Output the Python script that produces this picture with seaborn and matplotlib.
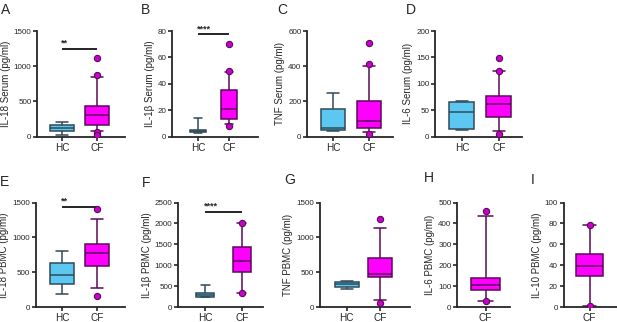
import numpy as np
import matplotlib
matplotlib.use("Agg")
import matplotlib.pyplot as plt
import seaborn as sns

# Box summaries: [low whisker, Q1, median, Q3, high whisker]
# (whis=inf on these five values reproduces exactly those quartiles/whiskers)
a_hc = [25, 80, 115, 160, 210]
a_cf = [74, 164, 308, 430, 840]
a_cf_out = [1120, 870, 60, 20]
b_hc = [2.5, 3.5, 4.5, 5, 14]
b_cf = [9.5, 13, 21, 35, 49]
b_cf_out = [70, 50, 8]
c_hc = [30, 38, 47, 158, 245]
c_cf = [25, 46, 89, 200, 400]
c_cf_out = [530, 410, 15]
d_hc = [12, 15, 47, 65, 68]
d_cf = [11, 37, 62, 77, 125]
d_cf_out = [148, 125, 5]
e_hc = [187, 327, 458, 631, 804]
e_cf = [266, 584, 771, 902, 1262]
e_cf_out = [1400, 160]
f_hc = [230, 245, 290, 330, 515]
f_cf = [337, 841, 1098, 1426, 2003]
f_cf_out = [2020, 340]
g_hc = [261, 290, 329, 363, 377]
g_cf = [100, 431, 474, 697, 1132]
g_cf_out = [1268, 55]
h_cf = [30, 80, 107, 141, 436]
h_cf_out = [460, 28]
i_cf = [0.6, 29.5, 39, 50.3, 78]
i_cf_out = [78, 0.5]

# significance bars (HC vs CF)
sig_a = (1250, "**")
sig_b = (77.5, "****")
sig_e = (1440, "**")
sig_f = (2280, "****")

hc_fill = "#5cc8f2"
hc_edge = "#2f4a58"
cf_fill = "#ff00ff"
cf_edge = "#5a0a5a"
dot_fill = "#cc00cc"

sns.set_style("ticks")
plt.rcParams["font.family"] = ["Liberation Sans", "DejaVu Sans"]
plt.rcParams["axes.linewidth"] = 1.3

fig = plt.figure(figsize=(6.17, 3.22), dpi=100)


def px_axes(left, right, top, bottom):
    return fig.add_axes([left / 617, 1 - bottom / 322,
                         (right - left) / 617, (bottom - top) / 322])


def draw_panel(ax, hc, cf, cf_out, ylabel, ymax, ystep, xlim, width, sig=None):
    groups = ["CF"] if hc is None else ["HC", "CF"]
    box_kw = dict(order=groups, whis=np.inf, width=width, saturation=1,
                  linewidth=1.1, showfliers=False, ax=ax)
    if hc is not None:
        sns.boxplot(x=["HC"] * len(hc), y=hc, color=hc_fill,
                    linecolor=hc_edge, **box_kw)
    sns.boxplot(x=["CF"] * len(cf), y=cf, color=cf_fill,
                linecolor=cf_edge, **box_kw)
    sns.stripplot(x=["CF"] * len(cf_out), y=cf_out, order=groups, jitter=False,
                  color=dot_fill, edgecolor=cf_edge, linewidth=0.8, size=4.5,
                  ax=ax, zorder=4)
    if sig is not None:
        ax.plot([0, 1], [sig[0], sig[0]], color="black", lw=1.2,
                solid_capstyle="butt", clip_on=False)
        ax.annotate(sig[1], (-0.03, sig[0]), xytext=(0, 0.5),
                    textcoords="offset points", ha="left", va="bottom",
                    fontsize=6.5, fontweight="bold")
    ax.set_xlim(*xlim)
    ax.set_ylim(0, ymax)
    ax.set_yticks(np.arange(0, ymax + ystep / 2, ystep))
    ax.set_xlabel("")
    ax.set_ylabel(ylabel, fontsize=7, labelpad=2)
    ax.tick_params(axis="y", labelsize=5.8, length=3, width=1.2, pad=1)
    ax.tick_params(axis="x", labelsize=7.2, length=3, width=1.2, pad=1.5)
    sns.despine(ax=ax)


# top row
ax = px_axes(37, 125, 31, 136.5)
draw_panel(ax, a_hc, a_cf, a_cf_out, "IL-18 Serum (pg/ml)", 1500, 500,
           (-0.71, 1.80), 0.69, sig_a)
ax = px_axes(172, 258, 31, 136.5)
draw_panel(ax, b_hc, b_cf, b_cf_out, "IL-1\u03b2 Serum (pg/ml)", 80, 20,
           (-0.84, 1.94), 0.53, sig_b)
ax = px_axes(307, 393, 31, 136.5)
draw_panel(ax, c_hc, c_cf, c_cf_out, "TNF Serum (pg/ml)", 600, 200,
           (-0.73, 1.67), 0.675)
ax = px_axes(435, 522, 31, 136.5)
draw_panel(ax, d_hc, d_cf, d_cf_out, "IL-6 Serum (pg/ml)", 200, 50,
           (-0.73, 1.63), 0.68)

# bottom row
ax = px_axes(35.5, 125, 202.5, 307)
draw_panel(ax, e_hc, e_cf, e_cf_out, "IL-18 PBMC (pg/ml)", 1500, 500,
           (-0.76, 1.81), 0.69, sig_e)
ax = px_axes(178, 263, 202.5, 307)
draw_panel(ax, f_hc, f_cf, f_cf_out, "IL-1\u03b2 PBMC (pg/ml)", 2500, 500,
           (-0.74, 1.58), 0.5, sig_f)
ax = px_axes(319.5, 410, 202.5, 307)
draw_panel(ax, g_hc, g_cf, g_cf_out, "TNF PBMC (pg/ml)", 1500, 500,
           (-0.82, 1.90), 0.73)
ax = px_axes(457, 510, 202.5, 307)
draw_panel(ax, None, h_cf, h_cf_out, "IL-6 PBMC (pg/ml)", 500, 100,
           (-0.71, 0.61), 0.7)
ax = px_axes(563.5, 616.5, 202.5, 307)
draw_panel(ax, None, i_cf, i_cf_out, "IL-10 PBMC (pg/ml)", 100, 20,
           (-0.655, 0.68), 0.7)

# panel letters
for letter, x, y in [("A", 1, 3), ("B", 141, 3), ("C", 277, 3), ("D", 406, 3),
                     ("E", 0, 175), ("F", 142, 176), ("G", 284, 173),
                     ("H", 424, 171), ("I", 531, 173)]:
    fig.text(x / 617, 1 - y / 322, letter, fontsize=10, ha="left", va="top")

fig.savefig("out.png", dpi=100)
